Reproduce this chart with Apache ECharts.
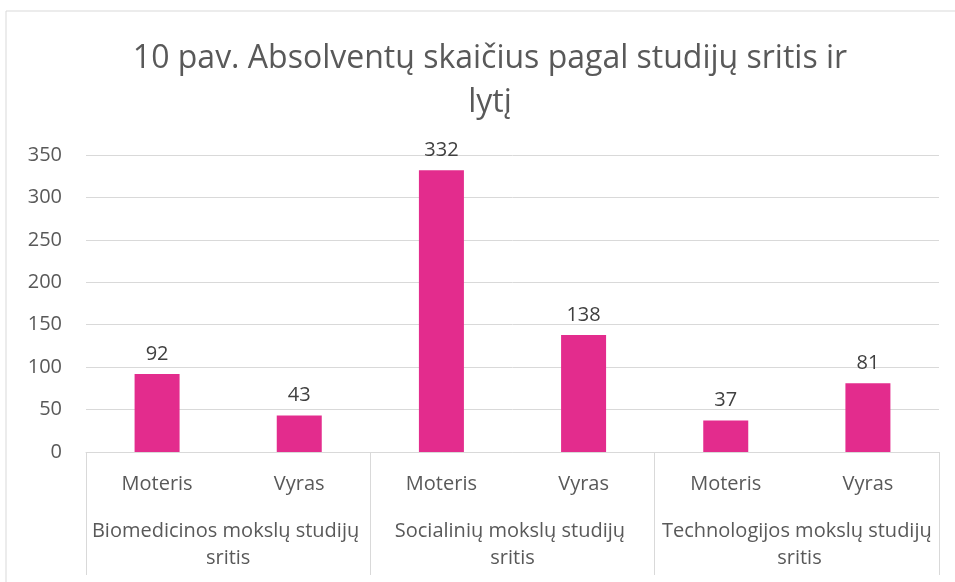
<!DOCTYPE html>
<html lang="lt">
    <head>
        <title>Absolventų skaičius</title>
        <meta charset="utf-8">
        <script src='https://cdn.jsdelivr.net/npm/echarts@6/dist/echarts.min.js'></script>
    </head>

    <style>
        html, body, #main {
            width: 100%;
            height: 100%;
            margin: 0;
            background: #fff;
        }
    </style>

    <body>
        <div id='main'></div>

        <script>
            const title = '10 pav. Absolventų skaičius pagal studijų sritis ir\nlytį';
            const genders = ['Moteris', 'Vyras', 'Moteris', 'Vyras', 'Moteris', 'Vyras'];
            const fields = [
                'Biomedicinos mokslų studijų sritis',
                'Socialinių mokslų studijų sritis',
                'Technologijos mokslų studijų sritis'
            ];
            const graduates = [92, 43, 332, 138, 37, 81];

            const font = 'Open Sans';
            const textColor = '#595959';
            const lineColor = '#d9d9d9';

            const chart = echarts.init(document.getElementById('main'));

            const option = {
                animation: false,
                textStyle: { fontFamily: font },
                title: {
                    text: title,
                    left: 485,
                    textAlign: 'center',
                    top: 32,
                    textStyle: {
                        fontFamily: font,
                        fontSize: 32,
                        fontWeight: 'normal',
                        color: textColor,
                        lineHeight: 44
                    }
                },
                graphic: [{
                    type: 'rect',
                    shape: { x: 6, y: 11, width: 1000, height: 700 },
                    style: { fill: 'none', stroke: lineColor, lineWidth: 1 },
                    silent: true,
                    z: -1
                }],
                grid: {
                    left: 86,
                    right: 16,
                    top: 155,
                    bottom: 130
                },
                xAxis: [{
                    type: 'category',
                    data: genders,
                    axisLine: { lineStyle: { color: lineColor } },
                    axisTick: { show: false },
                    axisLabel: {
                        color: textColor,
                        fontSize: 20,
                        margin: 22,
                        interval: 0
                    }
                }, {
                    type: 'category',
                    data: fields,
                    position: 'bottom',
                    axisLine: { show: false },
                    axisTick: {
                        show: true,
                        interval: 0,
                        length: 123,
                        lineStyle: { color: lineColor }
                    },
                    axisLabel: {
                        color: textColor,
                        fontSize: 20,
                        margin: 66,
                        interval: 0,
                        hideOverlap: false,
                        width: 290,
                        overflow: 'break',
                        lineHeight: 27
                    }
                }],
                yAxis: {
                    type: 'value',
                    min: 0,
                    max: 350,
                    interval: 50,
                    axisLine: { show: false },
                    axisTick: { show: false },
                    splitLine: { lineStyle: { color: lineColor } },
                    axisLabel: {
                        color: textColor,
                        fontSize: 20,
                        margin: 24
                    }
                },
                series: [{
                    type: 'bar',
                    data: graduates,
                    barWidth: 45,
                    itemStyle: { color: '#E32C8D' },
                    label: {
                        show: true,
                        position: 'top',
                        distance: 10,
                        color: '#404040',
                        fontSize: 20
                    }
                }]
            };

            chart.setOption(option);

            window.onresize = function () {
                chart.resize();
            }
        </script>
    </body>
</html>
